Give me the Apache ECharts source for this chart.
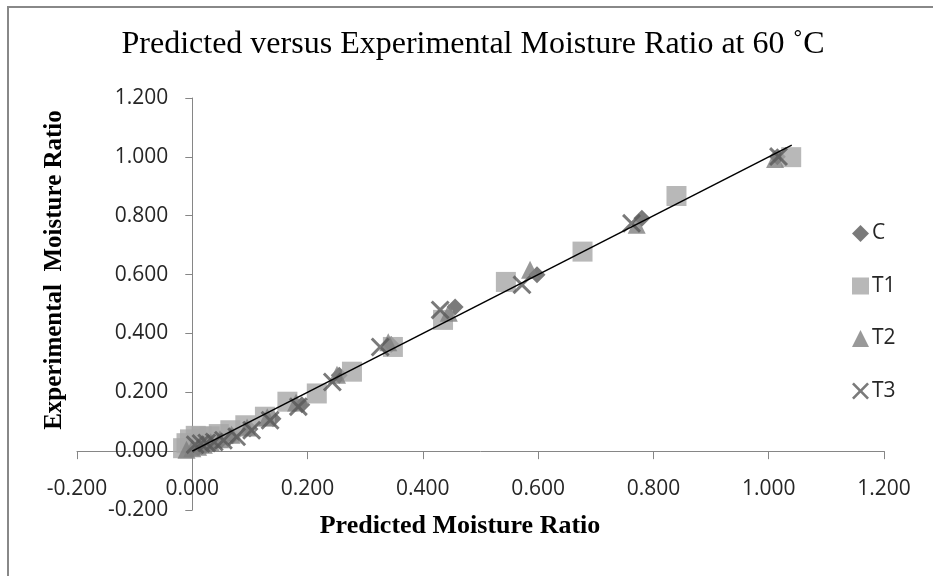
<!DOCTYPE html>
<html>
<head>
<meta charset="utf-8">
<script src="https://cdn.jsdelivr.net/npm/echarts@6/dist/echarts.min.js"></script>
<style>html,body{margin:0;padding:0;background:#fff;}#chart{width:933px;height:576px;}</style>
</head>
<body>
<div id="chart"></div>
<script>
var seriesNames = ['C', 'T1', 'T2', 'T3'];
var dataC = [[1.015,1.000],[0.780,0.791],[0.598,0.599],[0.456,0.490],[0.345,0.362],[0.255,0.258],[0.190,0.158],[0.140,0.110],[0.100,0.075],[0.070,0.052],[0.050,0.037],[0.035,0.028],[0.024,0.021],[0.016,0.016],[0.010,0.012]];
var dataT1 = [[1.039,0.999],[0.840,0.867],[0.677,0.678],[0.544,0.575],[0.435,0.446],[0.348,0.354],[0.277,0.270],[0.216,0.196],[0.165,0.168],[0.126,0.117],[0.092,0.088],[0.066,0.071],[0.046,0.058],[0.030,0.050],[0.016,0.050],[0.006,0.052],[-0.004,0.040],[-0.010,0.027],[-0.016,0.010]];
var dataT2 = [[1.011,0.993],[0.771,0.769],[0.586,0.616],[0.445,0.470],[0.340,0.370],[0.251,0.260],[0.180,0.165],[0.130,0.115],[0.095,0.080],[0.068,0.056],[0.048,0.040],[0.032,0.030],[0.020,0.022],[0.010,0.015],[0.000,0.010],[-0.010,0.005]];
var dataT3 = [[1.017,1.001],[0.762,0.774],[0.572,0.565],[0.430,0.480],[0.326,0.354],[0.243,0.235],[0.184,0.151],[0.135,0.105],[0.103,0.071],[0.077,0.049],[0.054,0.037],[0.038,0.031],[0.025,0.028],[0.015,0.026],[0.005,0.022]];
var fitLine = [[0, 0], [1.04, 1.04]];
var axisMin = -0.2, axisMax = 1.2, axisStep = 0.2;

var W = 933, H = 576;
var gridL = 77, gridR = 49, gridT = 98, gridB = 66;
var pxPerX = (W - gridL - gridR) / (axisMax - axisMin);
var pxPerY = (H - gridT - gridB) / (axisMax - axisMin);

var xPath = 'path://M0,2.2 L2.2,0 L10,7.8 L17.8,0 L20,2.2 L12.2,10 L20,17.8 L17.8,20 L10,12.2 L2.2,20 L0,17.8 L7.8,10 Z';
var chart = echarts.init(document.getElementById('chart'));
var tickFont = {fontFamily: 'Open Sans', fontSize: 21, color: '#262626'};
chart.setOption({
  animation: false,
  backgroundColor: '#fff',
  title: {
    text: 'Predicted versus Experimental Moisture Ratio at 60 \u02DAC',
    left: 468, top: 24, textAlign: 'center',
    textStyle: {fontFamily: 'Liberation Serif', fontWeight: 'normal', fontSize: 32, color: '#000'}
  },
  legend: {
    orient: 'vertical', left: 847, top: 218, itemGap: 31.5,
    itemWidth: 17, itemHeight: 17,
    data: seriesNames,
    textStyle: {fontFamily: 'Open Sans', fontSize: 21, color: '#262626', padding: [0,0,0,-2]}
  },
  grid: {left: gridL, right: gridR, top: gridT, bottom: gridB, containLabel: false, outerBoundsMode: 'none'},
  xAxis: {
    type: 'value', min: axisMin, max: axisMax, interval: axisStep,
    offset: -(0 - axisMin) * pxPerY,
    axisLine: {onZero: false, lineStyle: {color: '#868686', width: 1}},
    axisTick: {show: true, length: 8, lineStyle: {color: '#868686'}},
    axisLabel: Object.assign({margin: 27, formatter: function(v){return v.toFixed(3);}}, tickFont),
    splitLine: {show: false}
  },
  yAxis: {
    type: 'value', min: axisMin, max: axisMax, interval: axisStep,
    offset: -(0 - axisMin) * pxPerX,
    axisLine: {onZero: false, lineStyle: {color: '#868686', width: 1}},
    axisTick: {show: true, length: 7, lineStyle: {color: '#868686'}},
    axisLabel: Object.assign({margin: 24, formatter: function(v){return v.toFixed(3);}}, tickFont),
    splitLine: {show: false}
  },
  graphic: [
    {type: 'polyline', shape: {points: [[8, 576], [8, 7], [933, 7]]}, style: {stroke: '#888', lineWidth: 2, fill: null}, silent: true},
    {type: 'text', x: 460, y: 526, style: {text: 'Predicted Moisture Ratio', font: 'bold 26px "Liberation Serif"', fill: '#000', textAlign: 'center', textVerticalAlign: 'middle'}, silent: true},
    {type: 'text', x: 55, y: 270, rotation: Math.PI / 2, style: {text: 'Experimental  Moisture Ratio', font: 'bold 25px "Liberation Serif"', fill: '#000', textAlign: 'center', textVerticalAlign: 'middle'}, silent: true}
  ],
  series: [
    {name: 'C', type: 'scatter', symbol: 'diamond', symbolSize: 17, itemStyle: {color: '#595959'}, data: dataC},
    {name: 'T1', type: 'scatter', symbol: 'rect', symbolSize: 20, itemStyle: {color: '#a6a6a6'}, data: dataT1},
    {name: 'T2', type: 'scatter', symbol: 'triangle', symbolSize: 18, itemStyle: {color: '#7f7f7f'}, data: dataT2},
    {name: 'T3', type: 'scatter', symbol: xPath, symbolSize: 19, itemStyle: {color: '#595959'}, data: dataT3},
    {name: 'fit', type: 'line', data: fitLine, symbol: 'none', lineStyle: {color: '#000', width: 1.5}, z: 5, silent: true}
  ]
});
</script>
</body>
</html>
